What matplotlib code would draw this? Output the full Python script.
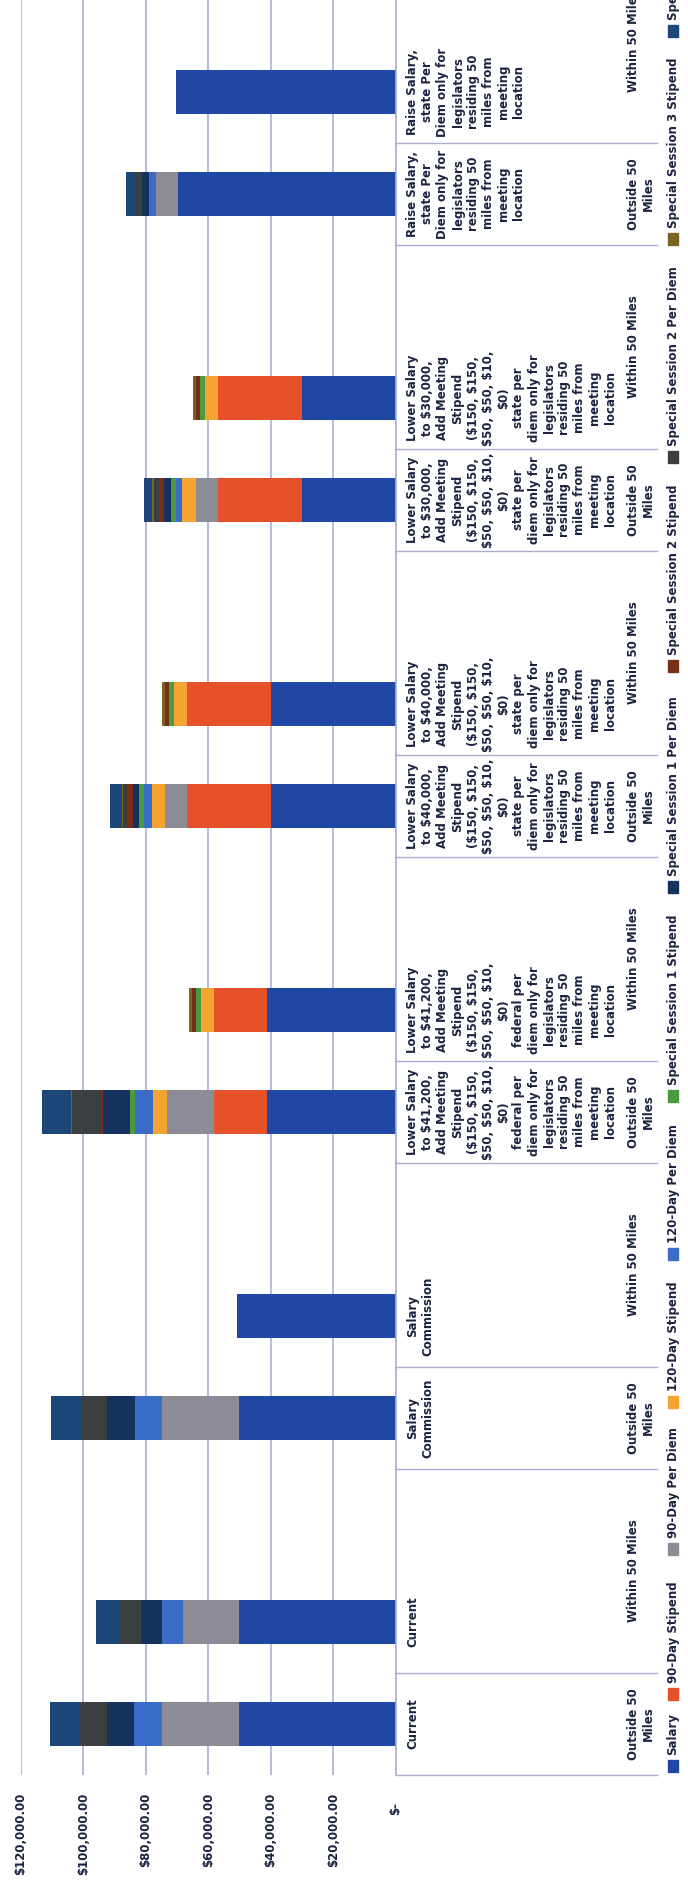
import matplotlib
matplotlib.use("Agg")
import matplotlib.pyplot as plt
import matplotlib.transforms as mtransforms
from matplotlib.patches import Rectangle

plt.rcParams['font.family'] = ['DejaVu Sans']

# scenario labels (inner level) and distance labels (outer level)
scenarios = [
    "Current",
    "Salary\nCommission",
    "Lower Salary\nto $41,200,\nAdd Meeting\nStipend\n($150, $150,\n$50, $50, $10,\n$0)\nfederal per\ndiem only for\nlegislators\nresiding 50\nmiles from\nmeeting\nlocation",
    "Lower Salary\nto $40,000,\nAdd Meeting\nStipend\n($150, $150,\n$50, $50, $10,\n$0)\nstate per\ndiem only for\nlegislators\nresiding 50\nmiles from\nmeeting\nlocation",
    "Lower Salary\nto $30,000,\nAdd Meeting\nStipend\n($150, $150,\n$50, $50, $10,\n$0)\nstate per\ndiem only for\nlegislators\nresiding 50\nmiles from\nmeeting\nlocation",
    "Raise Salary,\nstate Per\nDiem only for\nlegislators\nresiding 50\nmiles from\nmeeting\nlocation",
]
distances = ["Outside 50\nMiles", "Within 50 Miles"]

series_names = ["Salary", "90-Day Stipend", "90-Day Per Diem", "120-Day Stipend",
                "120-Day Per Diem", "Special Session 1 Stipend",
                "Special Session 1 Per Diem", "Special Session 2 Stipend",
                "Special Session 2 Per Diem", "Special Session 3 Stipend",
                "Special Session 3 Per Diem"]

# one value per bar: (scenario, Outside), (scenario, Within), ...
salary       = [50300, 50300, 50200, 50800, 41300, 41300, 40000, 40000, 30000, 30000, 69800, 70400]
stipend_90   = [0, 0, 0, 0, 16900, 16900, 26700, 26700, 26800, 26800, 0, 0]
per_diem_90  = [24500, 17900, 24500, 0, 15100, 0, 7100, 0, 7100, 0, 7000, 0]
stipend_120  = [0, 0, 0, 0, 4300, 4200, 4300, 4300, 4500, 4200, 0, 0]
per_diem_120 = [8800, 6600, 8700, 0, 5900, 0, 2500, 0, 1900, 0, 2300, 0]
ss1_stipend  = [0, 0, 0, 0, 1600, 1400, 1500, 1500, 1600, 1500, 0, 0]
ss1_per_diem = [8800, 6700, 9100, 0, 8500, 0, 2100, 0, 2300, 0, 2100, 0]
ss2_stipend  = [0, 0, 0, 0, 500, 1300, 1400, 1400, 1400, 1400, 0, 0]
ss2_per_diem = [8700, 7100, 8300, 0, 9600, 0, 1600, 0, 1800, 0, 2100, 0]
ss3_stipend  = [0, 0, 0, 0, 300, 1200, 500, 1000, 500, 900, 0, 0]
ss3_per_diem = [9400, 7300, 9600, 0, 9300, 0, 3700, 0, 2800, 0, 3000, 0]

series_values = [salary, stipend_90, per_diem_90, stipend_120, per_diem_120,
                 ss1_stipend, ss1_per_diem, ss2_stipend, ss2_per_diem,
                 ss3_stipend, ss3_per_diem]

value_ticks = [0, 20000, 40000, 60000, 80000, 100000, 120000]
value_tick_labels = ["$-", "$20,000.00", "$40,000.00", "$60,000.00",
                     "$80,000.00", "$100,000.00", "$120,000.00"]

colors = ["#1f47a3", "#e6512a", "#8b8c95", "#f5a431", "#3a6cc8", "#4a9a40",
          "#15315e", "#7a2e18", "#3b3f42", "#7a6420", "#1c4778"]

# legend swatch bottoms, pixels from the top of the page
legend_px = [1772, 1700, 1555, 1408, 1260, 1102, 893, 672, 463, 245, 37]

text_color = "#1b2340"
grid_color = "#b6bbdf"
label_kw = dict(rotation=90, color=text_color, fontweight="bold",
                parse_math=False)
fs = 8.5

W, H = 688, 1897
fig = plt.figure(figsize=(W / 100, H / 100), dpi=100)
fig.patch.set_facecolor("white")

slot_px = 102
n_slots = 3 * len(scenarios)
ax = fig.add_axes([20.7 / W, (H - 1775) / H, 375 / W, n_slots * slot_px / H])

# each scenario gets an Outside slot, a Within slot and an empty slot
slots = []
for g in range(len(scenarios)):
    slots += [3 * g, 3 * g + 1]

left = [0] * len(slots)
for vals, col, name in zip(series_values, colors, series_names):
    ax.barh(slots, vals, left=left, height=0.43, color=col, label=name,
            edgecolor="none", zorder=3)
    left = [a + b for a, b in zip(left, vals)]

ax.set_xlim(120000, 0)
ax.set_ylim(-0.5, n_slots - 0.5)
ax.set_xticks(value_ticks)
ax.set_yticks([])
ax.tick_params(axis="x", length=0, labelbottom=False)
for s in ax.spines.values():
    s.set_visible(False)
ax.grid(axis="x", color=grid_color, lw=1.4, zorder=0)
ax.axvline(0, color="#aab0d6", lw=1.2, clip_on=False, zorder=4)

# value labels under the plot
vt = mtransforms.blended_transform_factory(ax.transData, fig.transFigure)
for v, lab in zip(value_ticks, value_tick_labels):
    y = (H - 1802) / H if v == 0 else (H - 1793) / H
    ax.text(v, y, lab, transform=vt, ha="center", va="top", fontsize=fs,
            **label_kw)

# category labels and separators
ct = mtransforms.blended_transform_factory(fig.transFigure, ax.transData)
bounds = []
for g, scen in enumerate(scenarios):
    for k in range(len(distances)):
        ax.text(406 / W, 3 * g + k, scen, transform=ct, ha="left",
                va="center", multialignment="center", fontsize=fs,
                linespacing=1.22, clip_on=False, **label_kw)
    ax.text(627 / W, 3 * g, distances[0], transform=ct, ha="left",
            va="center", multialignment="center", fontsize=fs,
            linespacing=1.22, **label_kw)
    ax.text(627 / W, 3 * g + 1.5, distances[1], transform=ct, ha="left",
            va="center", fontsize=fs, **label_kw)
    bounds += [3 * g - 0.5, 3 * g + 0.5]
bounds.append(n_slots - 0.5)
for b in bounds:
    ax.plot([396 / W, 657 / W], [b, b], transform=ct, color="#a9add2",
            lw=1.0, clip_on=False, zorder=4)

# legend drawn along the right edge, reading bottom to top
for name, col, yb in zip(series_names, colors, legend_px):
    fig.add_artist(Rectangle((668 / W, (H - yb) / H), 10 / W, 12 / H,
                             transform=fig.transFigure, color=col))
    fig.text(673 / W, (H - yb + 17) / H, name, ha="center", va="bottom",
             fontsize=fs, **label_kw)

fig.savefig("out.png", dpi=100, facecolor="white")
